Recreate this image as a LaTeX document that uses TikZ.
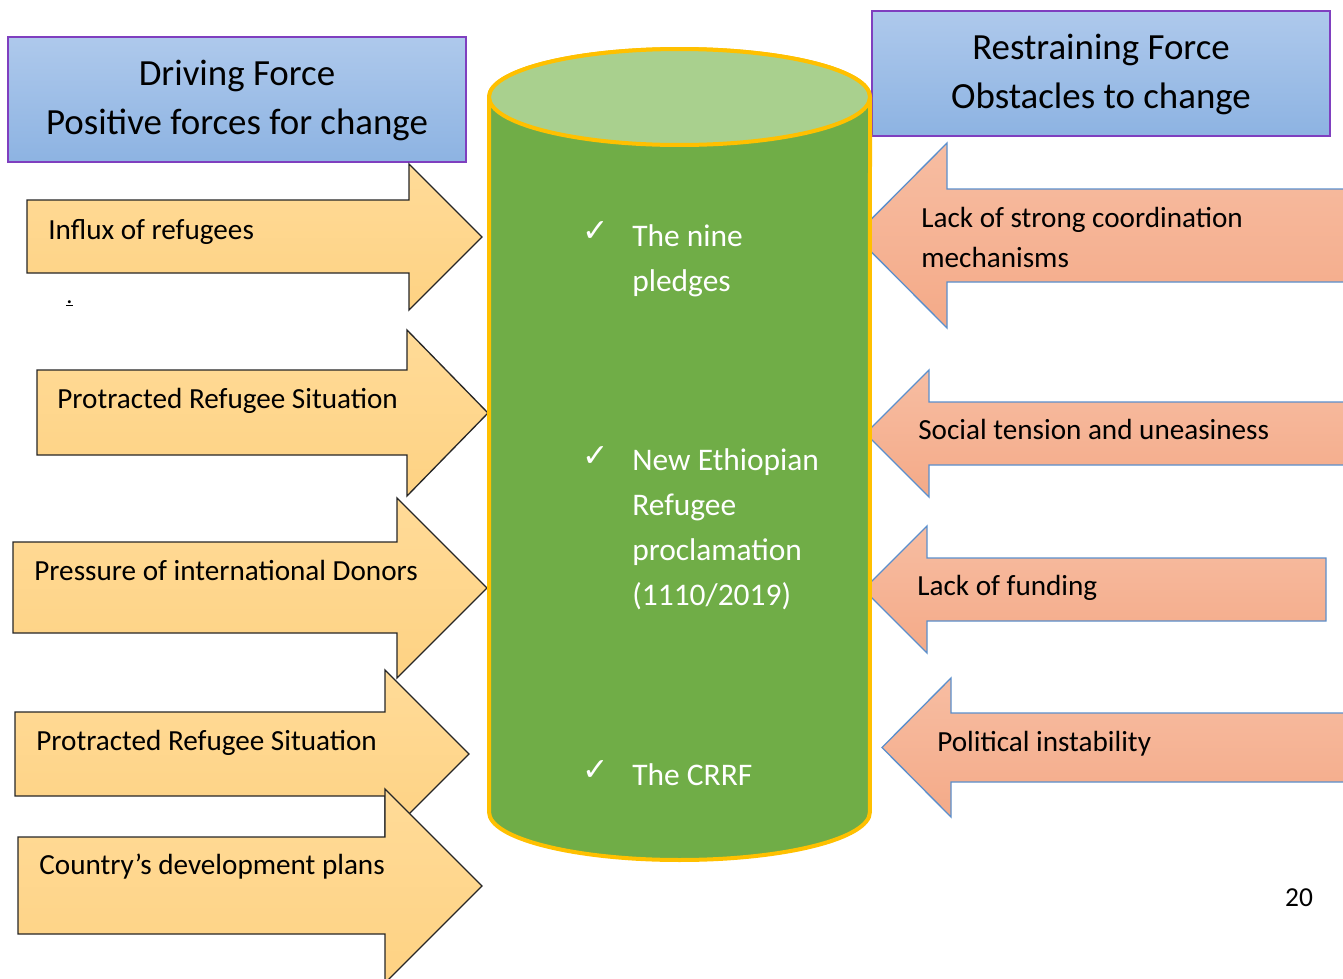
\documentclass[tikz,border=0pt]{standalone}
\usepackage{fontspec}
\setmainfont{Carlito}
\newfontfamily\checkfont{DejaVu Sans}
\usepackage{xcolor}
\usetikzlibrary{positioning}

\definecolor{headtop}{HTML}{AEC9EC}
\definecolor{headbot}{HTML}{8DB3E2}
\definecolor{headline}{HTML}{7F3FBF}
\definecolor{drivetop}{HTML}{FFDB98}
\definecolor{drivebot}{HTML}{FED283}
\definecolor{resttop}{HTML}{F7BDA2}
\definecolor{restbot}{HTML}{F4AA88}
\definecolor{restline}{HTML}{5B8FCC}
\definecolor{cylbody}{HTML}{70AD47}
\definecolor{cyltop}{HTML}{A9D08E}
\definecolor{cylline}{HTML}{FFC000}

\newcommand{\tick}{{\checkfont\fontsize{18pt}{18pt}\selectfont ✓}}

\begin{document}
\begin{tikzpicture}[x=0.02cm, y=-0.02cm,
  head/.style={draw=headline, line width=0.7pt, top color=headtop, bottom color=headbot, minimum width=9.16cm, minimum height=2.5cm, inner sep=0pt},
  headtxt/.style={align=center, font=\fontsize{21pt}{27.8pt}\selectfont, inner sep=0pt},
  drive/.style={draw=black!85, line width=0.75pt, top color=drivetop, bottom color=drivebot},
  restrain/.style={draw=restline, line width=0.75pt, top color=resttop, bottom color=restbot},
  lbl/.style={anchor=base west, align=left, inner sep=0pt, font=\fontsize{16.6pt}{22.7pt}\selectfont},
  cyl/.style={fill=cylbody, draw=cylline, line width=0.08cm},
  cyltxt/.style={anchor=base west, align=left, inner sep=0pt, text=white, font=\fontsize{17.9pt}{25.5pt}\selectfont},
  tickmark/.style={text=white, inner sep=0pt}]
\clip (0,0) rectangle (1343,978);

% headings (base of a two-line node = last line)
\node[head] (drivebox) at (237,99.5) {};
\node[head] (restbox) at (1101,73.5) {};
\node[headtxt, anchor=base] (drivetxt) at (237,134) {Driving Force\\Positive forces for change};
\node[headtxt, anchor=base] (resttxt) at (1101,108) {Restraining Force\\Obstacles to change};

% driving forces
\draw[drive] (27,200) -- (409,200) -- (409,164) -- (482,237) -- (409,310) -- (409,273) -- (27,273) -- cycle;
\draw[drive] (37,370) -- (407,370) -- (407,330) -- (488,413) -- (407,496) -- (407,455) -- (37,455) -- cycle;
\draw[drive] (13,542) -- (397,542) -- (397,498) -- (487,588) -- (397,678) -- (397,633) -- (13,633) -- cycle;
\draw[drive] (15,712) -- (385,712) -- (385,670) -- (469,754) -- (385,838) -- (385,796) -- (15,796) -- cycle;
\draw[drive] (18,837) -- (385,837) -- (385,789) -- (482,886) -- (385,983) -- (385,934) -- (18,934) -- cycle;

% restraining forces
\draw[restrain] (1360,189) -- (947,189) -- (947,143) -- (855,235.5) -- (947,328) -- (947,282) -- (1360,282) -- cycle;
\draw[restrain] (1360,402) -- (929,402) -- (929,370) -- (865.5,433.5) -- (929,497) -- (929,465) -- (1360,465) -- cycle;
\draw[restrain] (1326,558) -- (927,558) -- (927,526) -- (863.5,589.5) -- (927,653) -- (927,621) -- (1326,621) -- cycle;
\draw[restrain] (1360,713) -- (951,713) -- (951,678) -- (882,747.5) -- (951,817) -- (951,782) -- (1360,782) -- cycle;

% cylinder
\draw[cyl] (489,97) -- (489,812) arc[start angle=180, end angle=360, x radius=3.81cm, y radius=0.96cm]
  -- (870,97) arc[start angle=0, end angle=180, x radius=3.81cm, y radius=0.96cm] -- cycle;
\draw[cyl, fill=cyltop] (679.5,97) ellipse[x radius=3.81cm, y radius=0.96cm];

\node[lbl] (influx) at (48,239) {Influx of refugees};
\node[anchor=base west, inner sep=0pt, font=\fontsize{14pt}{14pt}\selectfont] (dot) at (66,303) {\underline{.}};
\node[lbl] (protract) at (57,408) {Protracted Refugee Situation};
\node[lbl] (donors) at (34,580) {Pressure of international Donors};
\node[lbl] (protractb) at (36,750) {Protracted Refugee Situation};
\node[lbl] (devplans) at (39,874) {Country’s development plans};

\node[lbl] (coord) at (921,267) {Lack of strong coordination\\mechanisms};
\node[lbl] (tension) at (918,439) {Social tension and uneasiness};
\node[lbl] (funding) at (917,595) {Lack of funding};
\node[lbl] (political) at (937,751) {Political instability};

\node[cyltxt] (pledges) at (632,291) {The nine\\pledges};
\node[cyltxt] (proclam) at (632,605) {New Ethiopian\\Refugee\\proclamation\\(1110/2019)};
\node[cyltxt] (crrf) at (632,785) {The CRRF};
\node[tickmark] (tickA) at (596,232) {\tick};
\node[tickmark] (tickB) at (596,457) {\tick};
\node[tickmark] (tickC) at (596,771) {\tick};

\node[anchor=base, inner sep=0pt, font=\fontsize{15.6pt}{15.6pt}\selectfont] (pagenum) at (1299,906) {20};
\end{tikzpicture}
\end{document}
